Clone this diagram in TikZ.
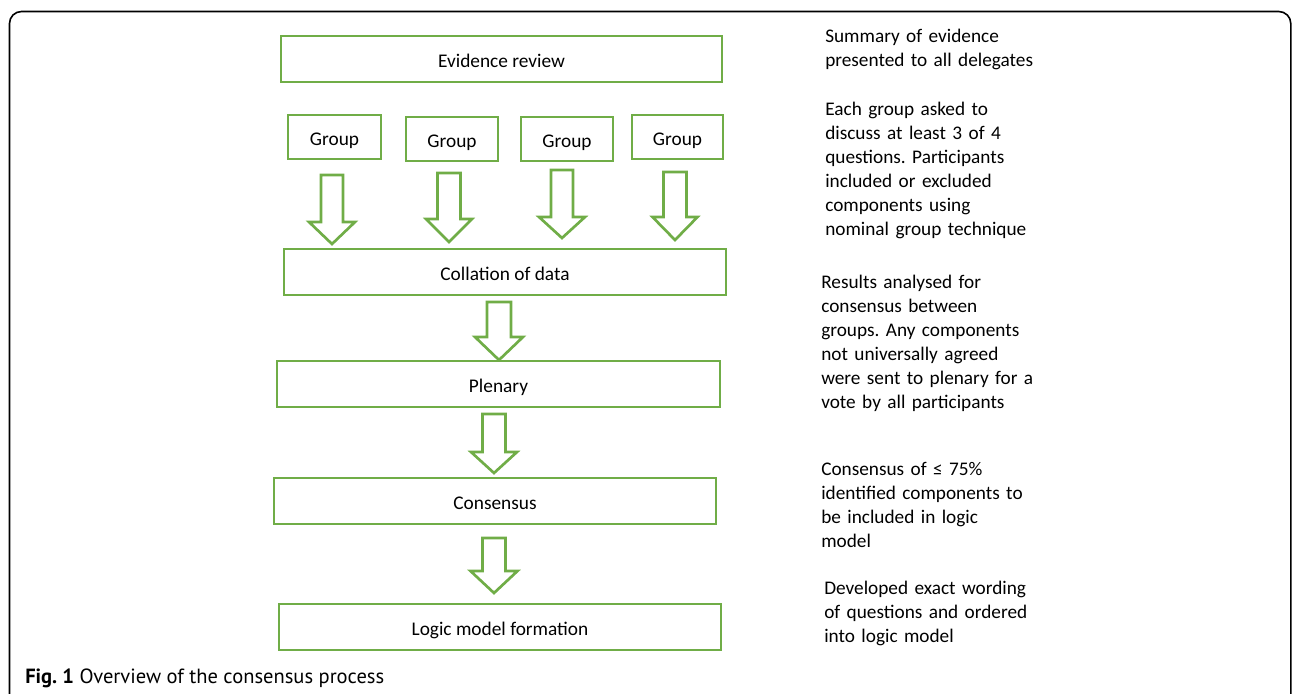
\documentclass[tikz,border=0pt]{standalone}
\usepackage{fontspec}
\setmainfont{Carlito}
\newfontfamily\capfont{PT Sans}
\definecolor{boxgreen}{HTML}{70AD47}
\frenchspacing
\newcommand\blkarrow[6]{%
  \draw[blockarrow] (#1-#5,#2) -- (#1+#5,#2) -- (#1+#5,#3) -- (#1+#6,#3) -- (#1,#4) -- (#1-#6,#3) -- (#1-#5,#3) -- cycle;}
\begin{document}
\begin{tikzpicture}[x=0.75pt,y=-0.75pt,
  box/.style={draw=boxgreen, line width=2pt, inner sep=0pt, text height=12pt, text depth=0pt, font=\fontsize{14.5}{18}\selectfont},
  sz/.style 2 args={minimum width=#1*0.75pt, minimum height=#2*0.75pt},
  blockarrow/.style={draw=boxgreen, line width=2pt, line join=miter},
  note/.style={anchor=base west, inner sep=0pt, text width=180pt, align=left, font=\fontsize{14.45}{18}\selectfont},
  frame/.style={draw=black, line width=1.2pt, rounded corners=9pt}]
\useasboundingbox (0,0) rectangle (1292,693);
\clip (0,0) rectangle (1292,693);
\draw[frame] (9.5,11.5) rectangle (1290.8,730);

\node[box, sz={441}{46}] (ev) at (501.5,59) {Evidence review};
\node[box, sz={93}{44}] (g1) at (334.5,137) {Group};
\node[box, sz={92}{44}] (g2) at (452,139) {Group};
\node[box, sz={92}{44}] (g3) at (567,139) {Group};
\node[box, sz={91}{44}] (g4) at (677.5,137) {Group};
\node[box, sz={442}{46}] (col) at (505,272) {Collation of data};
\node[box, sz={443}{46}] (ple) at (498.5,384) {Plenary};
\node[box, sz={442}{46}] (con) at (495,501) {Consensus};
\node[box, sz={442}{46}] (log) at (500,627) {Logic model formation};

\blkarrow{332}{175}{222}{244}{11}{23}
\blkarrow{449}{173}{219}{242}{11.5}{23}
\blkarrow{562}{170}{217}{238}{11}{23}
\blkarrow{675}{172}{217}{240}{11.5}{22.5}
\blkarrow{499}{302}{337}{360}{12}{24}
\blkarrow{494}{414}{452}{473}{11.5}{23}
\blkarrow{494}{538}{571}{593}{11.5}{23.5}

\node[note] (n1) at (825,42) {Summary of evidence\\presented to all delegates};
\node[note] (n2) at (825,115) {Each group asked to\\discuss at least 3 of 4\\questions. Participants\\included or excluded\\components using\\nominal group technique};
\node[note] (n3) at (821,288) {Results analysed for\\consensus between\\groups. Any components\\not universally agreed\\were sent to plenary for a\\vote by all participants};
\node[note] (n4) at (821,475) {Consensus of ≤ 75\%\\identified components to\\be included in logic\\model};
\node[note] (n5) at (824,594) {Developed exact wording\\of questions and ordered\\into logic model};

\node[anchor=base west, inner sep=0pt, font=\capfont\fontsize{15.4}{18}\selectfont] (cap) at (25,683) {\textbf{Fig. 1} Overview of the consensus process};
\end{tikzpicture}
\end{document}
